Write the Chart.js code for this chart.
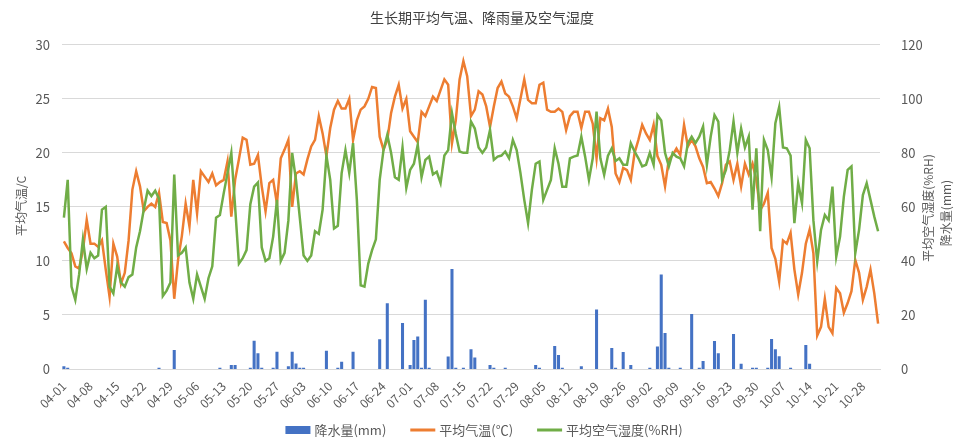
<!DOCTYPE html>
<html lang="zh">
<head>
<meta charset="UTF-8">
<title>生长期平均气温、降雨量及空气湿度</title>
<script src="https://cdn.jsdelivr.net/npm/chart.js@4.4.1/dist/chart.umd.min.js"></script>
<style>
  html, body { margin: 0; padding: 0; background: #fff; }
  #chart { display: block; }
</style>
</head>
<body>
<canvas id="chart" width="964" height="443"></canvas>
<script>
// 日期: 04-01 ~ 11-01, 每天一个点
const monthDays = [[4, 30], [5, 31], [6, 30], [7, 31], [8, 31], [9, 30], [10, 31], [11, 1]];
const dates = [];
monthDays.forEach(function (m) {
    for (let d = 1; d <= m[1]; d++) {
        dates.push(String(m[0]).padStart(2, '0') + '-' + String(d).padStart(2, '0'));
    }
});

// 平均气温 (℃)
const tempC = [
    11.8, 11.2, 10.7, 9.5, 9.3, 11.0, 13.8, 11.6, 11.6, 11.3,
    11.9, 9.2, 6.7, 11.6, 10.4, 7.9, 8.9, 11.9, 16.6, 18.3,
    16.9, 14.6, 15.0, 15.3, 15.0, 16.3, 13.6, 13.5, 11.9, 6.5,
    10.1, 12.3, 15.3, 13.2, 17.5, 14.4, 18.3, 17.8, 17.3, 18.1,
    17.0, 17.3, 17.5, 19.2, 14.1, 17.5, 19.4, 21.4, 21.2, 18.9,
    19.0, 19.8, 16.9, 14.6, 17.2, 17.5, 15.3, 19.5, 20.3, 21.2,
    15.0, 18.1, 18.3, 18.0, 19.4, 20.6, 21.2, 23.4, 21.8, 19.7,
    22.3, 24.0, 24.8, 24.1, 24.1, 25.0, 21.2, 23.0, 24.0, 24.3,
    25.0, 26.1, 26.0, 21.5, 20.3, 21.2, 23.7, 25.2, 26.3, 24.1,
    25.0, 22.0, 21.5, 21.0, 23.8, 23.4, 24.3, 25.2, 24.8, 25.8,
    26.8, 26.3, 20.9, 23.0, 26.8, 28.5, 27.1, 23.4, 24.0, 25.7,
    25.4, 24.3, 22.4, 24.3, 26.0, 26.6, 25.5, 25.2, 24.3, 23.2,
    25.0, 26.8, 24.9, 24.6, 24.6, 26.3, 26.5, 24.0, 23.8, 23.8,
    24.1, 23.8, 22.1, 23.4, 23.8, 23.8, 22.3, 23.8, 23.8, 22.7,
    19.5, 23.2, 23.0, 24.1, 22.4, 18.1, 17.3, 18.6, 18.4, 17.5,
    20.0, 21.2, 22.6, 21.8, 21.2, 22.6, 19.7, 18.9, 16.9, 19.4,
    19.8, 20.4, 19.8, 22.6, 20.6, 21.2, 20.6, 19.5, 18.7, 17.2,
    17.3, 16.7, 16.0, 17.2, 18.9, 19.2, 17.5, 19.0, 16.9, 19.0,
    18.0, 19.0, 17.5, 14.7, 15.3, 16.3, 11.2, 10.2, 8.1, 11.9,
    11.6, 12.6, 9.2, 6.9, 8.9, 11.6, 12.9, 10.7, 3.1, 3.9,
    6.5, 3.9, 3.3, 7.5, 7.0, 5.2, 6.1, 7.2, 10.1, 8.9,
    6.4, 7.6, 9.2, 7.0, 4.2
];

// 平均空气湿度 (%RH)
const humidity = [
    56, 70, 30.5, 25.6, 35, 48, 37, 43, 41, 42,
    59, 60, 30.5, 28, 38, 32, 30.5, 34, 35, 45,
    51, 59, 66, 64, 66, 63, 27, 29, 32, 72,
    42, 43, 45, 32, 26, 35, 30.5, 26, 33.6, 38,
    56, 57, 65, 72.5, 80, 60, 39, 41, 44, 61,
    67.5, 69, 45, 40, 41, 49, 62.6, 40, 43, 55,
    80, 70, 56, 42, 40, 42, 51, 50, 59, 79,
    70, 52, 53, 72.5, 81, 72.5, 83.6, 62.6, 31, 30.5,
    39, 44, 48, 70, 81, 86.7, 80, 71, 70, 82,
    67, 73.7, 76, 83, 71, 77.4, 78.6, 72, 73, 68.8,
    79, 81, 94.7, 87, 80.5, 80, 80, 91.6, 89, 82,
    80, 82, 88.5, 77.4, 78.6, 79, 80.5, 78, 84.8, 81,
    72.5, 62.6, 54, 66.3, 76, 76.8, 62.6, 66.3, 70, 81.7,
    76, 67.5, 67.5, 78, 78.6, 79, 86, 78.6, 70, 78,
    95.3, 78, 71.9, 79, 81.7, 77, 78, 75.6, 75.6, 83.6,
    80.5, 78, 75, 75.6, 80, 75.6, 94, 92, 80, 75,
    80, 78.6, 78, 75, 83.6, 86, 83.6, 86, 89.8, 75.6,
    86, 94, 91.6, 70, 73.7, 81, 91.6, 80, 89, 82,
    86, 59, 81.7, 51, 84.8, 81, 71, 91, 97, 82,
    81.7, 79, 54, 68.8, 61.4, 84.8, 81.7, 55, 39.8, 51.5,
    57, 55, 67.5, 41.6, 49, 63.8, 73.7, 75, 42.8, 51.5,
    64.4, 68.8, 62.6, 56.4, 51
];

// 降水量 (mm), 只列出有降水的日期
const rainDates = [
    '04-01', '04-02', '04-26', '04-30', '05-12', '05-15', '05-16', '05-20', '05-21', '05-22',
    '05-23', '05-26', '05-27', '05-30', '05-31', '06-01', '06-02', '06-03', '06-09', '06-12',
    '06-13', '06-16', '06-23', '06-25', '06-29', '07-01', '07-02', '07-03', '07-04', '07-05',
    '07-06', '07-11', '07-12', '07-13', '07-15', '07-17', '07-18', '07-22', '07-23', '07-26',
    '08-03', '08-04', '08-08', '08-09', '08-10', '08-15', '08-19', '08-23', '08-24', '08-26',
    '08-28', '09-02', '09-04', '09-05', '09-06', '09-07', '09-10', '09-13', '09-15', '09-16',
    '09-19', '09-20', '09-24', '09-26', '09-29', '09-30', '10-03', '10-04', '10-05', '10-06',
    '10-09', '10-13', '10-14'
];
const rainMm = [
    1, 0.5, 0.5, 7, 0.5, 1.5, 1.5, 0.5, 10.5, 5.8,
    0.5, 0.5, 6.4, 1, 6.4, 2, 0.5, 0.5, 6.8, 0.5,
    2.7, 6.4, 11, 24.3, 17, 1.5, 10.7, 12, 0.5, 25.6,
    0.5, 4.6, 37, 0.5, 0.5, 7.3, 4.3, 1.5, 0.5, 0.5,
    1.5, 0.5, 8.5, 5.2, 0.5, 1, 22, 7.8, 0.5, 6.3,
    1.5, 0.5, 8.3, 35, 13.3, 0.5, 0.5, 20.4, 0.5, 3,
    10.4, 5.8, 13, 1.9, 0.5, 0.5, 0.5, 11.1, 7.3, 4.7,
    0.5, 8.9, 1.9
];

const tempTicks = [0, 5, 10, 15, 20, 25, 30];
const rightTicks = [0, 20, 40, 60, 80, 100, 120];

// 按日期展开降水量
const rain = dates.map(function (d) {
    const k = rainDates.indexOf(d);
    return k >= 0 ? rainMm[k] : 0;
});

const BLUE = '#4472C4', ORANGE = '#ED7D31', GREEN = '#70AD47';
const FONT = '"Noto Sans CJK SC", "Noto Sans", sans-serif';

// 坐标轴标题 (竖排, 从下往上读)
const axisTitles = {
    id: 'axisTitles',
    afterDraw(chart) {
        const ctx = chart.ctx;
        const items = [
            ['平均气温/C', 21, 206],
            ['平均空气湿度(%RH)', 928, 208],
            ['降水量(mm)', 946, 213]
        ];
        ctx.save();
        ctx.fillStyle = '#595959';
        ctx.font = '12px ' + FONT;
        ctx.textAlign = 'center';
        ctx.textBaseline = 'middle';
        items.forEach(function (t) {
            ctx.save();
            ctx.translate(t[1], t[2]);
            ctx.rotate(-Math.PI / 2);
            ctx.fillText(t[0], 0, 0);
            ctx.restore();
        });
        ctx.restore();
    }
};

// 底部图例 (降水量为色块, 其余为线段)
const bottomLegend = {
    id: 'bottomLegend',
    afterDraw(chart) {
        const ctx = chart.ctx;
        const ds = chart.data.datasets;
        const swatchW = 25, gapText = 4, gapItem = 24, cy = 430;
        ctx.save();
        ctx.font = '13px ' + FONT;
        ctx.textBaseline = 'middle';
        ctx.textAlign = 'left';
        let total = 0;
        ds.forEach(function (d, i) {
            total += swatchW + gapText + ctx.measureText(d.label).width + (i ? gapItem : 0);
        });
        let x = 484 - total / 2;
        ds.forEach(function (d, i) {
            const h = d.type === 'line' ? 3 : 8;
            ctx.fillStyle = d.type === 'line' ? d.borderColor : d.backgroundColor;
            ctx.fillRect(x, cy - h / 2, swatchW, h);
            x += swatchW + gapText;
            ctx.fillStyle = '#595959';
            ctx.fillText(d.label, x, cy);
            x += ctx.measureText(d.label).width + gapItem;
        });
        ctx.restore();
    }
};

new Chart(document.getElementById('chart'), {
    type: 'bar',
    data: {
        labels: dates,
        datasets: [{
            label: '降水量(mm)',
            data: rain,
            backgroundColor: BLUE,
            yAxisID: 'y1',
            barPercentage: 0.8,
            categoryPercentage: 1,
            order: 3
        }, {
            type: 'line',
            label: '平均气温(℃)',
            data: tempC,
            borderColor: ORANGE,
            backgroundColor: ORANGE,
            borderWidth: 2.5,
            pointRadius: 0,
            yAxisID: 'y',
            order: 2
        }, {
            type: 'line',
            label: '平均空气湿度(%RH)',
            data: humidity,
            borderColor: GREEN,
            backgroundColor: GREEN,
            borderWidth: 2.5,
            pointRadius: 0,
            yAxisID: 'y1',
            order: 1
        }]
    },
    options: {
        responsive: false,
        animation: false,
        devicePixelRatio: 1,
        layout: { padding: { bottom: 34 } },
        plugins: {
            title: {
                display: true,
                text: '生长期平均气温、降雨量及空气湿度',
                color: '#404040',
                font: { family: FONT, size: 14, weight: 'normal' },
                padding: { top: 9, bottom: 19 }
            },
            legend: { display: false },
            tooltip: { enabled: false }
        },
        scales: {
            x: {
                grid: { display: false },
                border: { display: true, color: '#d9d9d9' },
                ticks: {
                    autoSkip: false,
                    maxRotation: 45,
                    minRotation: 45,
                    color: '#595959',
                    font: { family: FONT, size: 12 },
                    padding: 2,
                    callback: function (v, i) { return i % 7 === 0 ? dates[i] : ''; }
                },
                afterFit: function (scale) { scale.height = 40; }
            },
            y: {
                position: 'left',
                min: tempTicks[0],
                max: tempTicks[tempTicks.length - 1],
                afterBuildTicks: function (scale) {
                    scale.ticks = tempTicks.map(function (v) { return { value: v }; });
                },
                grid: { color: '#d9d9d9', drawTicks: false },
                border: { display: false },
                ticks: { color: '#595959', font: { family: FONT, size: 13 }, padding: 12 },
                afterFit: function (scale) { scale.width = 62; }
            },
            y1: {
                position: 'right',
                min: rightTicks[0],
                max: rightTicks[rightTicks.length - 1],
                afterBuildTicks: function (scale) {
                    scale.ticks = rightTicks.map(function (v) { return { value: v }; });
                },
                grid: { display: false },
                border: { display: false },
                ticks: { color: '#595959', font: { family: FONT, size: 13 }, padding: 13 },
                afterFit: function (scale) { scale.width = 84; }
            }
        }
    },
    plugins: [axisTitles, bottomLegend]
});
</script>
</body>
</html>
